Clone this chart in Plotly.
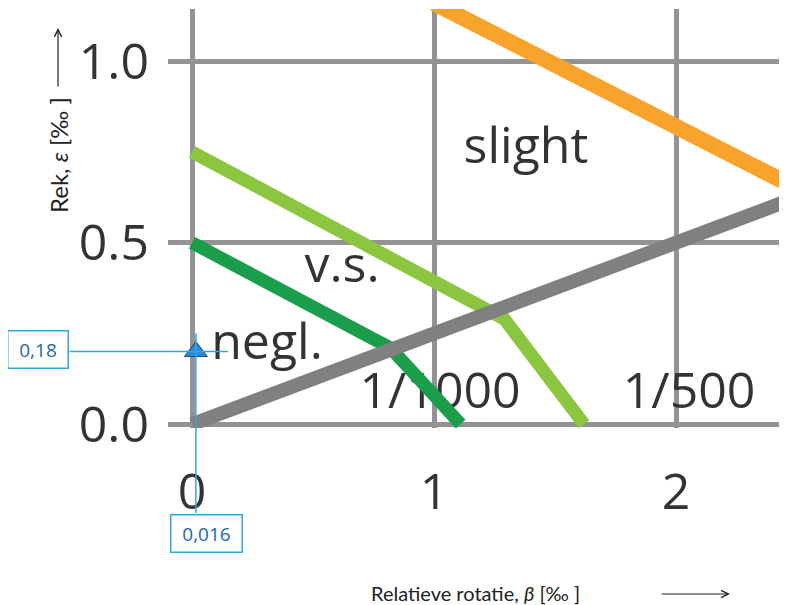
import plotly.graph_objects as go

# ---------------- data ----------------
gray_x = [0.0, 2.5]
gray_y = [0.0, 0.625]
orange_x = [1.0, 2.5]
orange_y = [1.16, 0.65]
lightgreen_x = [0.0, 1.29, 1.62]
lightgreen_y = [0.75, 0.29, 0.0]
darkgreen_x = [0.0, 0.82, 1.11]
darkgreen_y = [0.5, 0.21, 0.0]

label_text = ["slight", "v.s.", "negl.", "1/1000", "1/500"]
label_x = [1.38, 0.62, 0.31, 1.025, 2.054]
label_y = [0.755, 0.425, 0.215, 0.078, 0.078]

x_tickvals = [0, 1, 2]
x_ticktext = ["0", "1", "2"]
y_tickvals = [0.0, 0.5, 1.0]
y_ticktext = ["0.0", "0.5", "1.0"]

point_x = [0.016]
point_y = [0.2]
point_x_text = "0,016"
point_y_text = "0,18"

# ---------------- layout helpers ----------------
OFF = 8                      # page body margin of the browser
W, H = 787 - OFF, 605 - OFF
ML, MR, MT, MB = 168 - OFF, 0, 9 - OFF, 177
PW, PH = W - ML - MR, H - MT - MB


def paper(px, py):
    """page pixel -> paper coordinate"""
    fx, fy = px - OFF, py - OFF
    return (fx - ML) / PW, (H - MB - fy) / PH


GRID = "#939393"
TXT = "#333333"
BLUE = "#2fa8e0"
BLUE_TXT = "#2366b0"
BIG = dict(family="Open Sans", size=50, color=TXT)

fig = go.Figure()

# region labels (below lines)
fig.add_trace(go.Scatter(x=label_x, y=label_y, text=label_text, mode="text",
                         textposition="middle center", textfont=BIG,
                         hoverinfo="skip", cliponaxis=False))

fig.add_trace(go.Scatter(x=lightgreen_x, y=lightgreen_y, mode="lines",
                         line=dict(color="#8CC641", width=13)))
fig.add_trace(go.Scatter(x=darkgreen_x, y=darkgreen_y, mode="lines",
                         line=dict(color="#1B9E4B", width=13)))
fig.add_trace(go.Scatter(x=gray_x, y=gray_y, mode="lines",
                         line=dict(color="#808082", width=14)))
fig.add_trace(go.Scatter(x=orange_x, y=orange_y, mode="lines",
                         line=dict(color="#F8A32B", width=16)))

# measured point
fig.add_trace(go.Scatter(x=point_x, y=point_y, mode="markers",
                         marker=dict(symbol="triangle-up", size=20, color="#2b8ad8",
                                     line=dict(color="#1d3f70", width=1)),
                         cliponaxis=False))

annotations = []
# leader lines for the point
annotations.append(dict(x=point_x[0], y=point_y[0], xref="x", yref="y", text="",
                        showarrow=True, arrowhead=0, arrowwidth=1.5, arrowcolor=BLUE,
                        xshift=32, ax=-160, ay=0, standoff=0, startstandoff=0))
annotations.append(dict(x=point_x[0], y=point_y[0], xref="x", yref="y", text="",
                        showarrow=True, arrowhead=0, arrowwidth=1.5, arrowcolor=BLUE,
                        yshift=18, ax=0, ay=181, standoff=0, startstandoff=0))
# value boxes
annotations.append(dict(x=point_x[0], y=point_y[0], xref="x", yref="y", text=point_y_text,
                        showarrow=False, xshift=-158, yshift=2, width=57, height=34,
                        xanchor="center", yanchor="middle",
                        bordercolor=BLUE, borderwidth=1.5, borderpad=1, bgcolor="white",
                        font=dict(family="Open Sans", size=19, color=BLUE_TXT)))
annotations.append(dict(x=point_x[0], y=point_y[0], xref="x", yref="y", text=point_x_text,
                        showarrow=False, xshift=11, yshift=-182, width=68, height=34,
                        xanchor="center", yanchor="middle",
                        bordercolor=BLUE, borderwidth=1.5, borderpad=1, bgcolor="white",
                        font=dict(family="Open Sans", size=19, color=BLUE_TXT)))

# axis titles
tx, ty = paper(475, 593)
annotations.append(dict(x=tx, y=ty, xref="paper", yref="paper", showarrow=False,
                        xanchor="center", yanchor="middle",
                        text="Relatieve rotatie, <i>β</i> [‰ ]",
                        font=dict(family="Lato", size=20, color="#222222")))
tx, ty = paper(58, 155)
annotations.append(dict(x=tx, y=ty, xref="paper", yref="paper", showarrow=False,
                        xanchor="center", yanchor="middle",
                        text="Rek, <i>ε</i> [‰ ]", textangle=-90,
                        font=dict(family="Lato", size=24, color="#222222")))
# axis arrows
hx, hy = paper(730, 594)
annotations.append(dict(x=hx, y=hy, xref="paper", yref="paper", text="", showarrow=True,
                        arrowhead=5, arrowsize=1.2, arrowwidth=1.2, arrowcolor="#222222",
                        ax=-70, ay=0))
hx, hy = paper(58, 28)
annotations.append(dict(x=hx, y=hy, xref="paper", yref="paper", text="", showarrow=True,
                        arrowhead=5, arrowsize=1.2, arrowwidth=1.2, arrowcolor="#222222",
                        ax=0, ay=60))

fig.update_layout(
    width=W, height=H,
    margin=dict(l=ML, r=MR, t=MT, b=MB, pad=0),
    paper_bgcolor="white", plot_bgcolor="white",
    showlegend=False,
    annotations=annotations,
    xaxis=dict(range=[-0.0992, 2.4587], tickvals=x_tickvals, ticktext=x_ticktext,
               showgrid=True, gridcolor=GRID, gridwidth=5, zeroline=False,
               showline=False, ticks="", ticklabelstandoff=30, tickfont=BIG),
    yaxis=dict(range=[-0.0105, 1.1438], tickvals=y_tickvals, ticktext=y_ticktext,
               showgrid=True, gridcolor=GRID, gridwidth=5, zeroline=False,
               showline=False, ticks="", ticklabelstandoff=18, tickfont=BIG),
)

fig.write_html("out.html")
